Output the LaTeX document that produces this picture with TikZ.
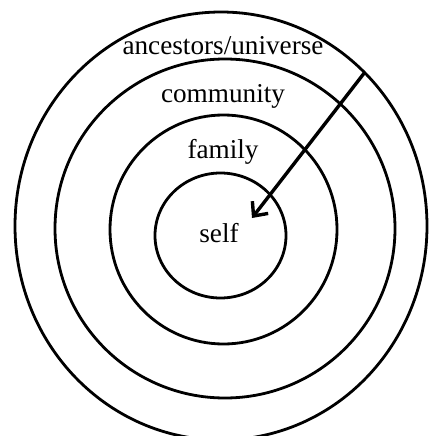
\documentclass[tikz,border=0pt]{standalone}
\usepackage{fontspec}
\setmainfont{Liberation Serif}
\usetikzlibrary{arrows.meta}
\begin{document}
\begin{tikzpicture}[x=1pt,y=-1pt,
  ring/.style={line width=2.8pt},
  lbl/.style={anchor=base,font=\fontsize{27.2}{30}\selectfont,inner sep=0pt},
  arr/.style={line width=3.4pt,-{Straight Barb[length=11pt,width=20pt,line width=3.4pt]}}]
\useasboundingbox (0,0) rectangle (428,436);
\draw[ring] (221,226) ellipse [x radius=206, y radius=214];
\draw[ring] (225,228.5) ellipse [x radius=170, y radius=169.5];
\draw[ring] (223.5,229.5) ellipse [x radius=113.5, y radius=114.5];
\draw[ring] (220.5,235.5) ellipse [x radius=65.5, y radius=62.5];
\node[lbl] (anc) at (223,55) {ancestors/universe};
\node[lbl] (com) at (223,102) {community};
\node[lbl] (fam) at (223,158) {family};
\node[lbl] (self) at (219,242) {self};
\coordinate (start) at (365,72);
\coordinate (tip) at (252,218);
\draw[arr] (start) -- (tip);
\end{tikzpicture}
\end{document}
